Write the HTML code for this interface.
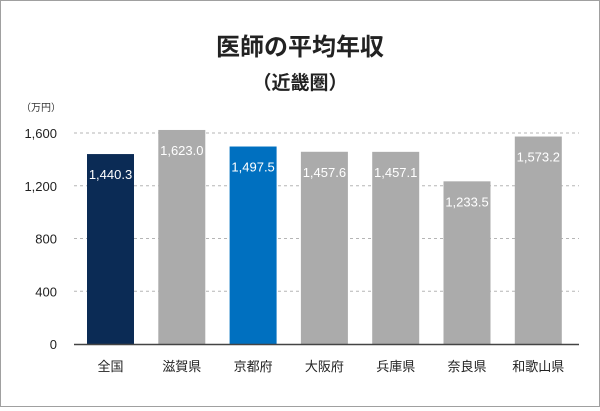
<!DOCTYPE html>
<html><head><meta charset="utf-8"><style>
body{margin:0;background:#fff}
#c{position:relative;width:598px;height:405px;border:1px solid #a0a0a0;font-family:"Liberation Sans","Noto Sans CJK JP",sans-serif}
</style></head><body>
<div id="c">
<svg id="s" width="598" height="405"></svg>
</div>
<script>
const categories=["全国","滋賀県","京都府","大阪府","兵庫県","奈良県","和歌山県"];
const values=[1440.3,1623.0,1497.5,1457.6,1457.1,1233.5,1573.2];
const valueLabels=["1,440.3","1,623.0","1,497.5","1,457.6","1,457.1","1,233.5","1,573.2"];
const ticks=[0,400,800,1200,1600];
const tickLabels=["0","400","800","1,200","1,600"];
const colors=["#0b2b55","#ababab","#0070c0","#ababab","#ababab","#ababab","#ababab"];
const ns="http://www.w3.org/2000/svg",s=document.getElementById('s');
function y(v){return 343-v*(211/1600);}
function x(i){return 86+i*71.3;}
function el(t,a,txt){const e=document.createElementNS(ns,t);for(const k in a)e.setAttribute(k,a[k]);if(txt!==undefined)e.textContent=txt;s.appendChild(e);return e;}
let t=el('text',{x:299,y:54,'text-anchor':'middle','font-size':24,'font-weight':'bold',fill:'#222'},'医師の平均年収');

t=el('text',{x:299,y:88,'text-anchor':'middle','font-size':19,'font-weight':'bold',fill:'#222'},'（近畿圏）');

t=el('text',{x:20,y:110,'font-size':10,fill:'#333'},'（万円）');

ticks.forEach((v,i)=>{
 if(v>0){const g=el('line',{x1:73,x2:578,y1:y(v),y2:y(v),stroke:'#b5b5b5','stroke-dasharray':'3,3'});
 }
 const l=el('text',{x:56,y:y(v)+5,'text-anchor':'end','font-size':13,fill:'#222'},tickLabels[i]);
 
});
values.forEach((v,i)=>{
 const r=el('rect',{x:x(i),y:y(v),width:47,height:343-y(v),fill:colors[i]});
 
 const l=el('text',{x:x(i)+23.5,y:y(v)+25,'text-anchor':'middle','font-size':13,fill:'#fff'},valueLabels[i]);
 
 const c=el('text',{x:x(i)+23.5,y:370,'text-anchor':'middle','font-size':13,fill:'#222'},categories[i]);
 
});
const a=el('line',{x1:73,x2:578,y1:343.5,y2:343.5,stroke:'#444','stroke-width':1.5});

</script>
</body></html>
